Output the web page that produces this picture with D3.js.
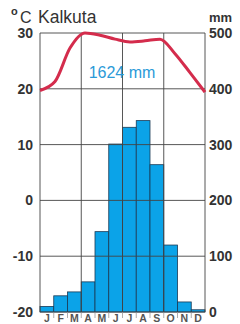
<!DOCTYPE html>
<html>
<head>
<meta charset="utf-8">
<script src="https://cdn.jsdelivr.net/npm/d3@7"></script>
<style>
  html, body { margin: 0; padding: 0; background: #fff; }
  svg { display: block; font-family: "Liberation Sans", Arial, sans-serif; }
</style>
</head>
<body>
<svg id="chart" width="240" height="324"></svg>
<script>
// climate data for Kalkuta
const months = ["J", "F", "M", "A", "M", "J", "J", "A", "S", "O", "N", "D"];
const precip = [10, 29, 36, 54, 144, 301, 331, 343, 264, 120, 18, 4];
const temp = [19.7, 21.3, 27.3, 30.0, 29.6, 28.9, 28.4, 28.6, 28.9, 26.3, 22.9, 19.4];
const tempTicks = [30, 20, 10, 0, -10, -20];
const precipTicks = [500, 400, 300, 200, 100, 0];
const station = "Kalkuta";
const total = "1624 mm";

const svg = d3.select("#chart");
const mLeft = 40, mRight = 205, mTop = 33, mBottom = 312;

const x = d3.scaleBand().domain(d3.range(12)).range([mLeft, mRight]).padding(0);
const xLine = d3.scalePoint().domain(d3.range(12)).range([mLeft, mRight]);
const yT = d3.scaleLinear().domain([-20, 30]).range([mBottom, mTop]);
const yP = d3.scaleLinear().domain([0, 500]).range([mBottom, mTop]);

// bars first, grid drawn over them
svg.append("g").selectAll("rect").data(precip).join("rect")
  .attr("x", (d, i) => x(i))
  .attr("y", d => yP(d))
  .attr("width", x.bandwidth())
  .attr("height", d => mBottom - yP(d))
  .attr("fill", "#0ba3e8")
  .attr("stroke", "#1b3a55")
  .attr("stroke-width", 0.8);

const grid = svg.append("g").attr("stroke", "#444").attr("stroke-width", 0.9);
grid.selectAll(".h").data(tempTicks).join("line")
  .attr("x1", mLeft).attr("x2", mRight)
  .attr("y1", d => yT(d)).attr("y2", d => yT(d));
grid.selectAll(".v").data([0, 3, 6, 9, 12]).join("line")
  .attr("x1", d => d === 12 ? mRight : x(d)).attr("x2", d => d === 12 ? mRight : x(d))
  .attr("y1", mTop).attr("y2", mBottom);

// small month separators under the axis
svg.append("g").attr("stroke", "#999").attr("stroke-width", 0.8)
  .selectAll("line").data(d3.range(1, 12)).join("line")
  .attr("x1", d => x(d)).attr("x2", d => x(d))
  .attr("y1", mBottom).attr("y2", mBottom + 6);

// temperature curve
const line = d3.line()
  .x((d, i) => xLine(i))
  .y(d => yT(d))
  .curve(d3.curveMonotoneX);
svg.append("path").datum(temp)
  .attr("d", line)
  .attr("fill", "none")
  .attr("stroke", "#d42c4c")
  .attr("stroke-width", 3)
  .attr("stroke-linejoin", "round");

// axis labels
svg.append("g").selectAll("text").data(tempTicks).join("text")
  .attr("x", 33).attr("y", d => yT(d) + 5)
  .attr("text-anchor", "end")
  .attr("font-size", 14).attr("font-weight", "bold").attr("fill", "#333")
  .text(d => d);
svg.append("g").selectAll("text").data(precipTicks).join("text")
  .attr("x", 209).attr("y", d => yP(d) + 5)
  .attr("font-size", 14).attr("font-weight", "bold").attr("fill", "#333")
  .text(d => d);

svg.append("g").selectAll("text").data(months).join("text")
  .attr("x", (d, i) => x(i) + x.bandwidth() / 2)
  .attr("y", 322)
  .attr("text-anchor", "middle")
  .attr("font-size", 10.5).attr("font-weight", "bold").attr("fill", "#555")
  .text(d => d);

// headers
svg.append("text").attr("x", 11).attr("y", 15)
  .attr("font-size", 11).attr("font-weight", "bold").attr("fill", "#333").text("o");
svg.append("text").attr("x", 20).attr("y", 23)
  .attr("font-size", 16).attr("fill", "#333").text("C");
svg.append("text").attr("x", 38).attr("y", 23)
  .attr("font-size", 17.5).attr("fill", "#333").text(station);
svg.append("text").attr("x", 209).attr("y", 22)
  .attr("font-size", 13).attr("font-weight", "bold").attr("fill", "#333").text("mm");

svg.append("text").attr("x", 122).attr("y", 78)
  .attr("text-anchor", "middle")
  .attr("font-size", 16).attr("fill", "#2a9ad8").text(total);
</script>
</body>
</html>
